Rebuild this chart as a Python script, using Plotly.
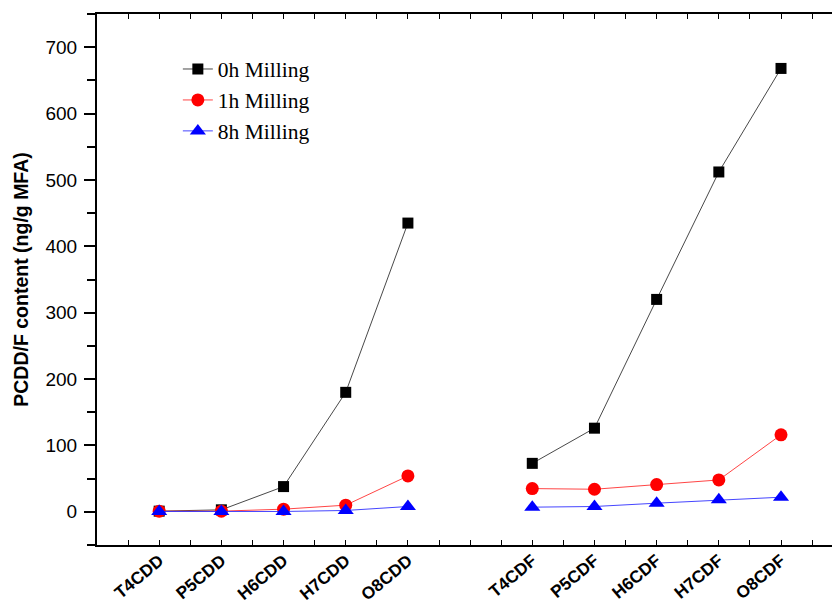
import plotly.graph_objects as go

categories = ["T4CDD", "P5CDD", "H6CDD", "H7CDD", "O8CDD",
              "T4CDF", "P5CDF", "H6CDF", "H7CDF", "O8CDF"]
positions = [1, 2, 3, 4, 5, 7, 8, 9, 10, 11]

h0 = [1, 3, 38, 180, 435, 73, 126, 320, 512, 668]
h1 = [1, 1, 4, 10, 54, 35, 34, 41, 48, 116]
h8 = [0.5, 0.3, 0.5, 2, 8, 7, 8, 13, 18, 22]

y_ticks = [0, 100, 200, 300, 400, 500, 600, 700]


def split(vals):
    # break the line between the PCDD group and the PCDF group
    return list(vals[:5]) + [None] + list(vals[5:])


xs = split(positions)
x_range = [0, 11.82]

fig = go.Figure()
fig.add_trace(go.Scatter(x=xs, y=split(h0), mode="lines+markers", name="0h Milling",
                         line=dict(color="#333333", width=0.9),
                         marker=dict(symbol="square", size=11, color="black")))
fig.add_trace(go.Scatter(x=xs, y=split(h1), mode="lines+markers", name="1h Milling",
                         line=dict(color="#ff3030", width=0.9),
                         marker=dict(symbol="circle", size=13, color="#ff0000")))
fig.add_trace(go.Scatter(x=xs, y=split(h8), mode="lines+markers", name="8h Milling",
                         line=dict(color="#3030ff", width=0.9),
                         marker=dict(symbol="triangle-up", size=14, color="#0000ff")))
# empty trace so the top frame axis is drawn
fig.add_trace(go.Scatter(x=[], y=[], xaxis="x2", showlegend=False, hoverinfo="skip"))

fig.update_layout(
    width=832, height=600,
    margin=dict(l=97, r=0, t=14, b=55),
    plot_bgcolor="white", paper_bgcolor="white",
    showlegend=True,
    legend=dict(x=0.11, y=0.935, xanchor="left", yanchor="top",
                bgcolor="rgba(0,0,0,0)",
                font=dict(family="Liberation Serif", size=21.5, color="black")),
    font=dict(family="Liberation Sans", color="black"),
    xaxis=dict(
        automargin=False,
        range=x_range, tickmode="array", tickvals=positions,
        ticktext=["<b>%s</b>" % c for c in categories],
        tickangle=-40, ticks="inside", ticklen=5, tickcolor="black", tickwidth=1,
        ticklabelstandoff=-3,
        tickfont=dict(family="Liberation Sans", size=17.2, color="black"),
        showline=True, linecolor="black", linewidth=2, mirror=False,
        showgrid=False, zeroline=False,
        minor=dict(tickmode="linear", tick0=0, dtick=0.5, ticks="inside", ticklen=5,
                   tickcolor="black", tickwidth=1, showgrid=False),
    ),
    xaxis2=dict(
        automargin=False, overlaying="x", side="top", anchor="y",
        range=x_range, tickmode="array", tickvals=positions, showticklabels=False,
        ticks="inside", ticklen=5, tickcolor="black", tickwidth=1,
        showline=True, linecolor="black", linewidth=2,
        showgrid=False, zeroline=False,
        minor=dict(tickmode="linear", tick0=0, dtick=0.5, ticks="inside", ticklen=5,
                   tickcolor="black", tickwidth=1, showgrid=False),
    ),
)
fig.update_yaxes(
    automargin=False,
    range=[-50, 750], tickmode="array", tickvals=y_ticks,
    ticks="outside", ticklen=11, tickcolor="black", tickwidth=1.5,
    ticklabelstandoff=3,
    tickfont=dict(family="Liberation Sans", size=19, color="black"),
    showline=True, linecolor="black", linewidth=2, mirror=False,
    showgrid=False, zeroline=False,
    minor=dict(tickmode="linear", tick0=-50, dtick=50, ticks="outside", ticklen=8,
               tickcolor="black", tickwidth=1.5, showgrid=False),
    title=dict(text="<b>PCDD/F content (ng/g MFA)</b>", standoff=12,
               font=dict(family="Liberation Sans", size=19.5, color="black")),
)

fig.write_html("out.html", config={"displayModeBar": False},
               post_script="document.body.style.margin='0';")
